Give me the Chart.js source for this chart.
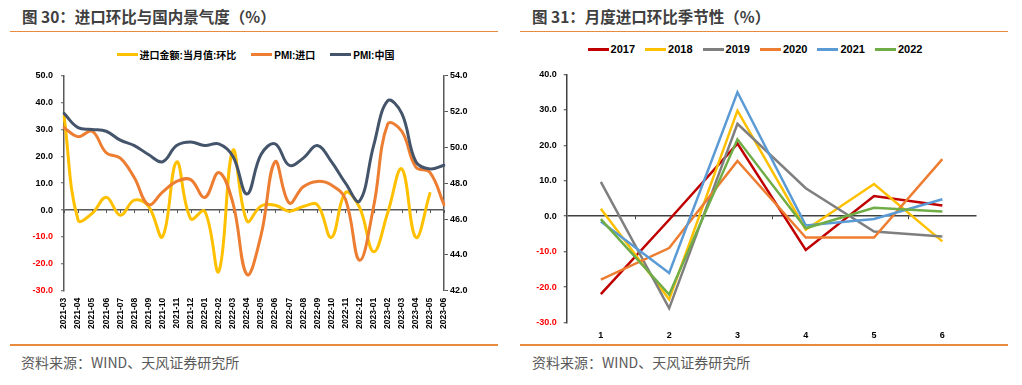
<!DOCTYPE html>
<html><head><meta charset="utf-8">
<script src="https://cdn.jsdelivr.net/npm/chart.js@4.4.0/dist/chart.umd.min.js"></script>
<style>
html,body{margin:0;padding:0;background:#fff;}
body{width:1022px;height:385px;position:relative;overflow:hidden;font-family:"Noto Sans CJK SC","Liberation Sans",sans-serif;}
.title{position:absolute;top:6px;font-size:15.5px;font-weight:bold;color:#404040;line-height:20px;white-space:nowrap;}
.rule{position:absolute;height:1.5px;background:#E98B3F;}
.src{position:absolute;top:352px;font-size:14px;color:#595959;line-height:20px;white-space:nowrap;}
.legend{position:absolute;display:flex;justify-content:center;align-items:center;white-space:nowrap;font-weight:bold;color:#000;font-family:"Liberation Sans","Noto Sans CJK SC",sans-serif;}
.legend .item{display:flex;align-items:center;}
.legend .sw{display:inline-block;height:3px;width:21px;margin-right:2px;}
canvas{position:absolute;}
</style></head>
<body>
<div class="title" style="left:22px">图 30：进口环比与国内景气度（%）</div>
<div class="title" style="left:532px">图 31：月度进口环比季节性（%）</div>
<div class="rule" style="left:10px;width:488px;top:30.5px"></div>
<div class="rule" style="left:520px;width:488px;top:30.5px"></div>
<div class="rule" style="left:10px;width:488px;top:344px"></div>
<div class="rule" style="left:520px;width:488px;top:344px"></div>
<div class="src" style="left:21px">资料来源：WIND、天风证券研究所</div>
<div class="src" style="left:532px">资料来源：WIND、天风证券研究所</div>
<div id="lg1" class="legend" style="left:0;width:511px;top:47px;height:14px;font-size:10px;gap:15px"></div>
<div id="lg2" class="legend" style="left:511px;width:488px;top:42px;height:14px;font-size:11px;gap:10px"></div>
<canvas id="c1" width="511" height="285" style="left:0;top:60px"></canvas>
<canvas id="c2" width="511" height="285" style="left:511px;top:60px"></canvas>
<script>
// ---------- Data: chart 1 ----------
const months = ['2021-03','2021-04','2021-05','2021-06','2021-07','2021-08','2021-09','2021-10','2021-11','2021-12',
  '2022-01','2022-02','2022-03','2022-04','2022-05','2022-06','2022-07','2022-08','2022-09','2022-10','2022-11','2022-12',
  '2023-01','2023-02','2023-03','2023-04','2023-05','2023-06'];
const importMoM = [35.0,-3.7,-1.2,4.8,-1.9,3.7,1.5,-9.9,17.9,-3.2,
  -0.4,-22.8,22.2,-4.1,1.5,1.8,-0.4,1.3,2.0,-10.2,6.5,1.0,
  -15.5,-1.0,15.3,-10.2,6.2,null];
const pmiImport = [51.1,50.6,50.9,49.7,49.4,48.3,46.8,47.5,48.1,48.2,
  47.2,48.6,46.9,42.9,45.1,49.2,46.9,47.8,48.1,47.9,47.1,43.7,
  46.7,51.3,50.9,48.9,48.6,46.8];
const pmiChina = [51.9,51.1,51.0,50.9,50.4,50.1,49.6,49.2,50.1,50.3,
  50.1,50.2,49.5,47.4,49.6,50.2,49.0,49.4,50.1,49.2,48.0,47.0,
  50.1,52.6,51.9,49.2,48.8,49.0];
const names1 = ['进口金额:当月值:环比','PMI:进口','PMI:中国'];

// ---------- Data: chart 2 ----------
const seasonMonths = ['1','2','3','4','5','6'];
const seasonYears = ['2017','2018','2019','2020','2021','2022'];
const s2017 = [-22.0,-1.0,20.5,-9.5,5.7,3.0];
const s2018 = [2.1,-23.5,29.8,-3.8,9.1,-7.1];
const s2019 = [9.7,-26.0,26.1,7.9,-4.3,-5.7];
const s2020 = [-17.9,-9.0,15.6,-6.0,-6.0,16.1];
const s2021 = [-1.5,-16.0,35.0,-2.6,-0.8,4.8];
const s2022 = [-0.8,-22.1,21.7,-3.4,2.4,1.3];

// ---------- Styles ----------
const colors1 = ['#FFC000','#ED7D31','#44546A'];
const colors2 = ['#C00000','#FFC000','#7F7F7F','#ED7D31','#5B9BD5','#70AD47'];
const tickFont = {family:'Liberation Sans', size:9, weight:'bold'};

function buildLegend(id, names, colors){
  const el = document.getElementById(id);
  names.forEach((n,i)=>{
    const it = document.createElement('div'); it.className='item';
    const sw = document.createElement('span'); sw.className='sw'; sw.style.background=colors[i];
    const tx = document.createElement('span'); tx.textContent=n;
    it.appendChild(sw); it.appendChild(tx); el.appendChild(it);
  });
}
buildLegend('lg1', names1, colors1);
buildLegend('lg2', seasonYears, colors2);

const zeroTicks = {
  id:'zeroTicks',
  beforeDatasetsDraw(chart, args, opts){
    const x = chart.scales.x, y = chart.scales.y;
    const y0 = y.getPixelForValue(0);
    const n = x.ticks.length;
    const xs = [];
    if (opts.between){ for(let i=0;i<n-1;i++) xs.push((x.getPixelForTick(i)+x.getPixelForTick(i+1))/2); }
    else { for(let i=0;i<n;i++) xs.push(x.getPixelForTick(i)); }
    const ctx = chart.ctx;
    ctx.save(); ctx.strokeStyle = opts.color; ctx.lineWidth = 1;
    ctx.beginPath();
    xs.forEach(px=>{ const p=Math.round(px)+0.5; ctx.moveTo(p,y0); ctx.lineTo(p,y0+opts.len); });
    ctx.stroke(); ctx.restore();
  }
};
const redNeg = ctx => (ctx.tick && ctx.tick.value < 0) ? '#FF0000' : '#000000';

new Chart(document.getElementById('c1'), {
  type:'line',
  plugins:[zeroTicks],
  data:{labels:months, datasets:[
    {label:names1[0], data:importMoM, borderColor:colors1[0], yAxisID:'y', order:3},
    {label:names1[1], data:pmiImport, borderColor:colors1[1], yAxisID:'y1', order:2},
    {label:names1[2], data:pmiChina, borderColor:colors1[2], yAxisID:'y1', order:1}
  ]},
  options:{
    responsive:false, devicePixelRatio:1, animation:false,
    layout:{padding:{top:15.7,left:0,right:0,bottom:0}},
    elements:{line:{borderWidth:3, tension:0.4, fill:false, borderCapStyle:'round', capBezierPoints:false}, point:{radius:0}},
    plugins:{legend:{display:false}, tooltip:{enabled:false}, zeroTicks:{color:'#595959', len:3, between:false}},
    scales:{
      x:{offset:false, grid:{display:false, drawTicks:false, tickLength:0}, border:{display:false},
        ticks:{autoSkip:false, minRotation:90, maxRotation:90, padding:7, color:'#000', font:{family:'Liberation Sans', size:8.5, weight:'bold'}},
        afterFit(s){ s.height = 54.3; }},
      y:{position:'left', min:-30, max:50,
        ticks:{stepSize:10, padding:8, color:redNeg, font:tickFont, callback:v=>Number(v).toFixed(1)},
        grid:{color:c=> (c.tick && c.tick.value===0) ? '#595959' : 'rgba(0,0,0,0)', lineWidth:1.5, tickColor:'#595959', tickWidth:1, tickLength:3},
        border:{color:'#595959', width:1.5},
        afterFit(s){ s.width = 64; }},
      y1:{position:'right', min:42, max:54,
        ticks:{stepSize:2, padding:2, color:'#000', font:tickFont, callback:v=>Number(v).toFixed(1)},
        grid:{drawOnChartArea:false, tickColor:'#595959', tickWidth:1, tickLength:4},
        border:{color:'#595959', width:1.5},
        afterFit(s){ s.width = 67; }}
    }
  }
});

const seasonSeries = [s2017,s2018,s2019,s2020,s2021,s2022];
new Chart(document.getElementById('c2'), {
  type:'line',
  plugins:[zeroTicks],
  data:{labels:seasonMonths, datasets: seasonSeries.map((d,i)=>({
    label:seasonYears[i], data:d, borderColor:colors2[i], order:seasonSeries.length-i
  }))},
  options:{
    responsive:false, devicePixelRatio:1, animation:false,
    layout:{padding:{top:14.5,left:0,right:45.5,bottom:0}},
    elements:{line:{borderWidth:2.5, tension:0, fill:false}, point:{radius:0}},
    plugins:{legend:{display:false}, tooltip:{enabled:false}, zeroTicks:{color:'#404040', len:3, between:true}},
    scales:{
      x:{offset:true, grid:{display:false, drawTicks:false, tickLength:0}, border:{display:false},
        ticks:{maxRotation:0, padding:8, color:'#000', font:tickFont},
        afterFit(s){ s.height = 22.5; }},
      y:{min:-30, max:40,
        ticks:{stepSize:10, padding:7, color:redNeg, font:tickFont, callback:v=>Number(v).toFixed(1)},
        grid:{color:c=> (c.tick && c.tick.value===0) ? '#404040' : 'rgba(0,0,0,0)', lineWidth:1.5, tickColor:'#404040', tickWidth:1, tickLength:3},
        border:{color:'#404040', width:1.5},
        afterFit(s){ s.width = 55.7; }}
    }
  }
});
</script>
</body></html>
